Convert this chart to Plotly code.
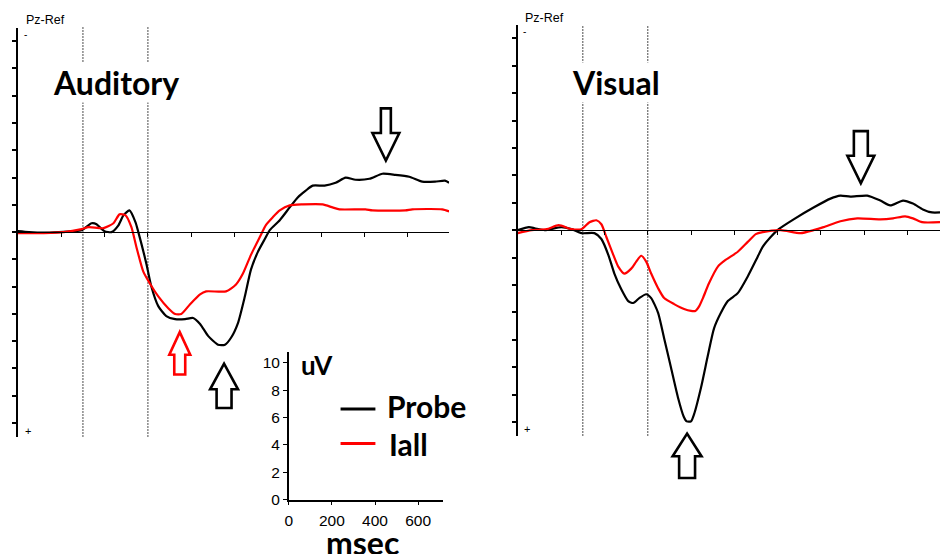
import plotly.graph_objects as go

W, H = 940, 554

# ---------------- data (ms, uV; positive plotted downward) ----------------
aud_t_probe = [0, 51, 120, 189, 257, 294, 340, 363, 382, 400, 432, 464, 487, 515, 543, 556,
               593, 616, 648, 685, 726, 772, 809, 841, 878, 924, 956, 984, 1016, 1048, 1076,
               1108, 1140, 1163, 1209, 1255, 1292, 1329, 1361, 1416, 1467, 1513, 1559, 1623,
               1683, 1743, 1807, 1867, 1926, 1972, 1991]
aud_probe = [-0.07, 0, 0.04, 0, -0.07, -0.14, -0.65, -0.58, -0.29, -0.07, 0, -0.5, -1.23, -1.59,
             -0.72, 0, 2.32, 3.99, 5.43, 6.16, 6.38, 6.38, 6.30, 6.74, 7.61, 8.26, 8.26, 7.75,
             6.67, 4.71, 2.75, 1.45, 0.51, -0.14, -0.87, -1.81, -2.54, -3.04, -3.41, -3.41,
             -3.62, -3.99, -3.84, -3.91, -4.28, -4.20, -4.06, -3.70, -3.70, -3.77, -3.62]

aud_t_iall = [0, 120, 212, 294, 326, 395, 441, 469, 497, 524, 547, 579, 612, 648, 694, 726, 754,
              795, 841, 869, 961, 1007, 1039, 1076, 1117, 1145, 1177, 1209, 1255, 1315, 1407,
              1453, 1485, 1605, 1637, 1789, 1821, 1959, 1991]
aud_iall = [0.07, 0.07, 0, -0.22, -0.36, -0.29, -0.65, -1.30, -1.23, -0.36, 1.09, 2.90, 3.84,
            4.71, 5.58, 6.01, 6.01, 5.29, 4.57, 4.35, 4.35, 3.84, 3.04, 1.67, 0.36, -0.51, -1.09,
            -1.59, -1.96, -2.03, -2.03, -1.81, -1.67, -1.67, -1.59, -1.59, -1.67, -1.67, -1.52]

vis_t_probe = [0, 51, 78, 124, 202, 248, 294, 354, 386, 418, 446, 478, 510, 533, 561, 593, 616,
               648, 676, 708, 740, 766, 780, 800, 816, 846, 878, 906, 938, 970, 1016, 1062, 1108,
               1131, 1168, 1205, 1274, 1366, 1444, 1490, 1536, 1614, 1674, 1720, 1779, 1825,
               1871, 1913, 1950]
vis_probe = [0, -0.22, -0.14, 0, -0.22, -0.07, 0.22, 0.22, 0.65, 1.80, 3.17, 4.32, 5.18, 5.32,
             4.96, 4.68, 4.96, 6.04, 7.91, 10.07, 12.23, 13.6, 13.96, 13.96, 13.35, 11.51, 9.14,
             7.19, 6.04, 5.18, 4.60, 3.38, 1.94, 1.22, 0.50, -0.07, -0.79, -1.65, -2.30, -2.52,
             -2.45, -2.52, -2.16, -1.80, -2.16, -1.94, -1.51, -1.29, -1.29]

vis_t_iall = [0, 64, 133, 189, 248, 294, 331, 363, 386, 409, 441, 464, 492, 524, 547, 570, 593,
              616, 648, 676, 722, 768, 800, 820, 838, 855, 883, 924, 961, 1016, 1062, 1099, 1131,
              1214, 1306, 1366, 1412, 1490, 1568, 1674, 1733, 1789, 1825, 1867, 1950]
vis_iall = [0.22, 0, -0.07, -0.36, -0.07, -0.07, -0.58, -0.72, -0.43, 0.50, 1.80, 2.66, 3.17,
            2.81, 2.30, 1.87, 2.30, 3.17, 4.24, 4.96, 5.40, 5.76, 5.90, 5.90, 5.55, 4.96, 3.88,
            2.66, 2.16, 1.58, 0.86, 0.29, 0.14, 0, 0.22, 0, -0.22, -0.65, -0.86, -0.79, -0.86,
            -1.01, -0.86, -0.58, -0.58]

markers_ms = [300, 600]          # dotted vertical lines
panel_titles = ["Auditory", "Visual"]
series_names = ["Probe", "Iall"]
scale_y_ticks = [0, 2, 4, 6, 8, 10]
scale_x_ticks = [0, 200, 400, 600]

# ---------------- helpers ----------------
def px(x):
    return x / W

def py(y):
    return 1 - y / H

BLACK = "#000000"
RED = "#ff0000"

fig = go.Figure()
line_kw = dict(shape="spline", smoothing=0.6, width=2.2)
fig.add_trace(go.Scatter(x=aud_t_probe, y=aud_probe, mode="lines", line=dict(color=BLACK, **line_kw),
                         xaxis="x", yaxis="y", name=series_names[0]))
fig.add_trace(go.Scatter(x=aud_t_iall, y=aud_iall, mode="lines", line=dict(color=RED, **line_kw),
                         xaxis="x", yaxis="y", name=series_names[1]))
fig.add_trace(go.Scatter(x=vis_t_probe, y=vis_probe, mode="lines", line=dict(color=BLACK, **line_kw),
                         xaxis="x2", yaxis="y2", name=series_names[0]))
fig.add_trace(go.Scatter(x=vis_t_iall, y=vis_iall, mode="lines", line=dict(color=RED, **line_kw),
                         xaxis="x2", yaxis="y2", name=series_names[1]))
# invisible trace to instantiate the scale-bar axes
fig.add_trace(go.Scatter(x=[0], y=[0], mode="markers", marker=dict(opacity=0),
                         xaxis="x3", yaxis="y3", hoverinfo="skip"))

L_dom_y = [py(443), py(28)]
R_dom_y = [py(442), py(25)]

def main_x(domain, rng, ydom):
    return dict(domain=domain, range=rng, anchor="free", position=(ydom[0] + ydom[1]) / 2,
                showline=True, linecolor=BLACK, linewidth=1, ticks="outside", ticklen=4,
                tickwidth=1, tickcolor=BLACK, tick0=0, dtick=200, showticklabels=False,
                showgrid=False, zeroline=False, fixedrange=True)

def main_y(domain, anchor):
    return dict(domain=domain, range=[15, -15], anchor=anchor, showline=True, linecolor=BLACK,
                linewidth=1.5, ticks="outside", ticklen=4, tickwidth=1.5, tickcolor=BLACK,
                tick0=0, dtick=2, showticklabels=False, showgrid=False, zeroline=False,
                fixedrange=True)

tickfont = dict(family="Liberation Sans Narrow, Liberation Sans, Arial", size=15.5, color=BLACK)

fig.update_layout(
    width=W, height=H, margin=dict(l=0, r=0, t=0, b=0),
    paper_bgcolor="white", plot_bgcolor="white", showlegend=False,
    xaxis=main_x([px(14), px(447)], [0, 1991], L_dom_y),
    yaxis=main_y(L_dom_y, "x"),
    xaxis2=main_x([px(516), 1.0], [0, 1950], R_dom_y),
    yaxis2=main_y(R_dom_y, "x2"),
    xaxis3=dict(domain=[px(286), px(441)], range=[0, 716], anchor="y3", showline=True,
                linecolor=BLACK, linewidth=1.5, ticks="outside", ticklen=4, tickwidth=1.2,
                tickcolor=BLACK, tickvals=scale_x_ticks, tickfont=tickfont, showgrid=False,
                zeroline=False, fixedrange=True, ticklabelstandoff=2),
    yaxis3=dict(domain=[py(507), py(357)], range=[0, 10.8], anchor="x3", showline=True,
                linecolor=BLACK, linewidth=1.5, ticks="outside", ticklen=4, tickwidth=1.2,
                tickcolor=BLACK, tickvals=scale_y_ticks, tickfont=tickfont, showgrid=False,
                zeroline=False, fixedrange=True),
)

# dotted vertical lines
for xr, dom in (("x", L_dom_y), ("x2", R_dom_y)):
    for m in markers_ms:
        fig.add_shape(type="line", xref=xr, yref="paper", x0=m, x1=m, y0=dom[0], y1=dom[1],
                      line=dict(color=BLACK, width=1.4, dash="1px,2px"), layer="below")

# block arrows (pixel geometry -> paper)
def arrow(cx, tip, head, tail, hw, sw, color):
    pts = [(cx - sw / 2, tail), (cx + sw / 2, tail), (cx + sw / 2, head), (cx + hw / 2, head),
           (cx, tip), (cx - hw / 2, head), (cx - sw / 2, head)]
    path = "M " + " L ".join(f"{px(a):.5f},{py(b):.5f}" for a, b in pts) + " Z"
    fig.add_shape(type="path", xref="paper", yref="paper", path=path,
                  line=dict(color=color, width=2.6), fillcolor="white", layer="above")

arrow(383.5, 163, 135, 110, 27, 10, BLACK)    # auditory P300 probe (down)
arrow(176.5, 337, 360, 380, 21, 11, RED)      # auditory iall (up)
arrow(221, 369, 395, 414, 28, 15, BLACK)      # auditory probe (up)
arrow(860.5, 186, 158, 133, 27, 14, BLACK)    # visual (down)
arrow(686, 440, 463, 485, 29, 16, BLACK)      # visual probe (up)

# legend lines in the scale-bar inset
fig.add_shape(type="line", xref="paper", yref="paper", x0=px(338), x1=px(373), y0=py(415), y1=py(415),
              line=dict(color=BLACK, width=3))
fig.add_shape(type="line", xref="paper", yref="paper", x0=px(338), x1=px(373), y0=py(450), y1=py(450),
              line=dict(color=RED, width=3))

def text(s, x, y, size, family="Lato", bold=False, bg=None, xanchor="left"):
    fig.add_annotation(text=f"<b>{s}</b>" if bold else s, x=px(x), y=py(y), xref="paper",
                       yref="paper", xanchor=xanchor, yanchor="middle", showarrow=False,
                       font=dict(family=family, size=size, color=BLACK),
                       bgcolor=bg, borderpad=0)

small = "Liberation Sans, Arial"
text(panel_titles[0], 48, 84, 32, bold=True, bg="white")
text(panel_titles[1], 569, 84, 32, bold=True, bg="white")
text("Pz-Ref", 21, 20, 12.5, family=small)
text("Pz-Ref", 522, 18, 12.5, family=small)
text("-", 19, 35, 10, family=small)
text("-", 520, 32, 10, family=small)
text("+", 20, 437, 11, family=small)
text("+", 521, 435, 11, family=small)
text("uV", 297, 370, 26, bold=True)
text(series_names[0], 384, 412, 30, bold=True)
text(series_names[1], 386, 451, 30, bold=True)
text("msec", 322, 550, 32, bold=True)

fig.write_html("out.html")
